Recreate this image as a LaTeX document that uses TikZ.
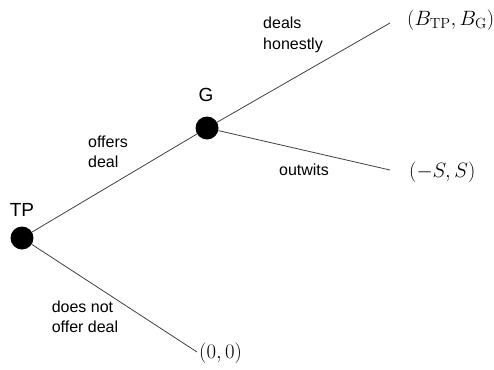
\documentclass[tikz,border=0pt]{standalone}
\usepackage{fontspec}
\newfontfamily\labelfont{Liberation Sans}
\usetikzlibrary{positioning}
\begin{document}
\begin{tikzpicture}[
    x=1pt, y=-1pt,
    player/.style={circle, fill=black, minimum size=23pt, inner sep=0pt},
    branch/.style={line width=0.8pt, black!75},
    who/.style={font=\labelfont\fontsize{19}{22}\selectfont, inner sep=0pt},
    move/.style={align=left, inner sep=0pt,
      font=\labelfont\fontsize{16}{20.5}\selectfont},
    payoff/.style={anchor=west, inner sep=0pt, font=\fontsize{21}{24}\selectfont}
  ]
  \useasboundingbox (0,0) rectangle (494,369);

  % --- Decision nodes ---
  \node[player] (tp) at (22,238) {};
  \node[player] (g) at (207,128) {};
  \node[who, above=10pt of tp] (tplab) {TP};
  \node[who, above=14pt of g, xshift=-1pt] (glab) {G};

  % --- Branch ends and payoffs ---
  \coordinate (honest) at (390,23);
  \coordinate (outwit) at (390,170);
  \coordinate (nodeal) at (197,352);
  \node[payoff] (payhonest) at (407,20) {$(B_{\mathrm{TP}},B_{\mathrm{G}})$};
  \node[payoff] (payoutwit) at (409,172) {$(-S,S)$};
  \node[payoff] (paynodeal) at (199,353) {$(0,0)$};

  % --- Branches ---
  \draw[branch] (tp) -- (g);
  \draw[branch] (g) -- (honest);
  \draw[branch] (g) -- (outwit);
  \draw[branch] (tp) -- (nodeal);

  % --- Move labels ---
  \node[move] (offer) at (108,152) {offers\\deal};
  \node[move] (deal) at (293,35) {deals\\honestly};
  \node[move] (trick) at (304,170) {outwits};
  \node[move] (nooffer) at (85,317) {does not\\offer deal};

\end{tikzpicture}
\end{document}
